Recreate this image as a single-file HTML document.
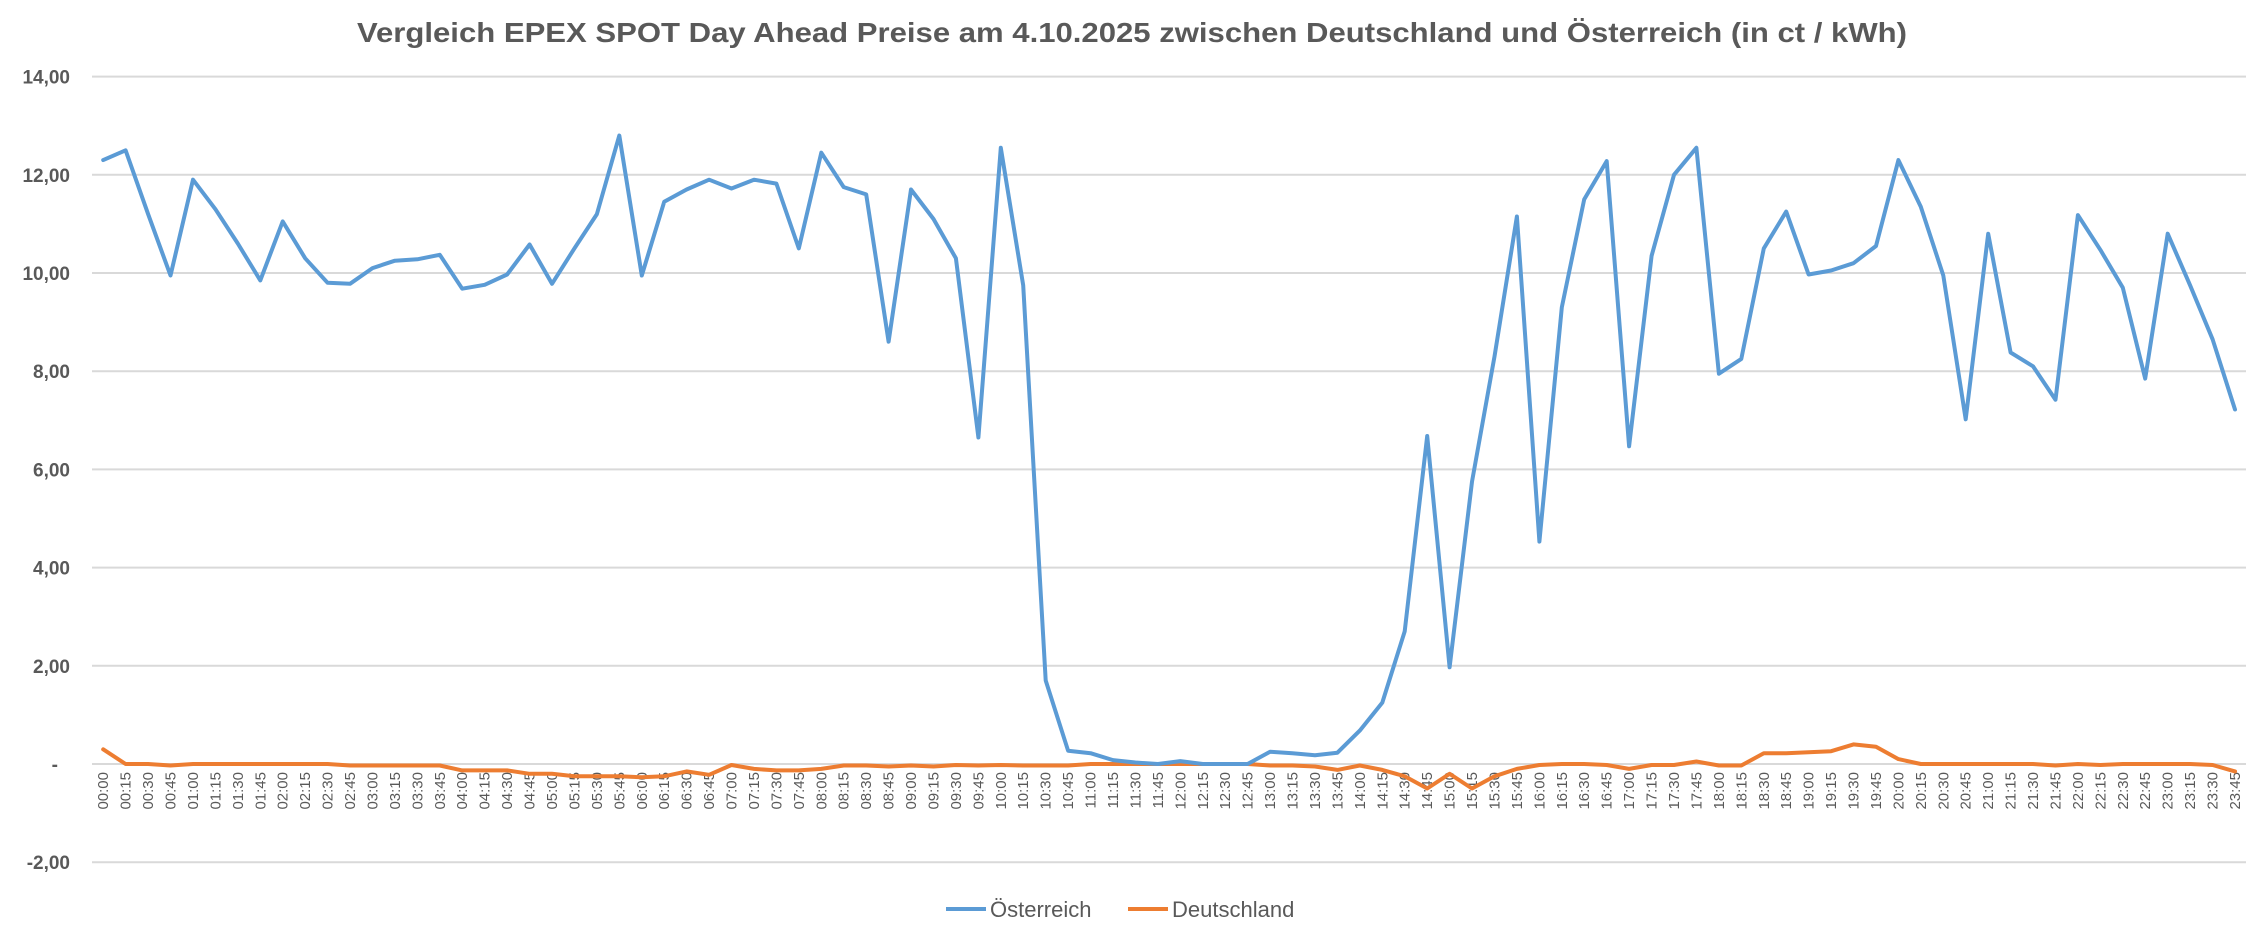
<!DOCTYPE html>
<html><head><meta charset="utf-8"><style>
html,body{margin:0;padding:0;background:#fff;}
svg{display:block;}
text{font-family:"Liberation Sans",sans-serif;}
</style></head><body>
<svg id="c" width="2265" height="937" viewBox="0 0 2265 937" xmlns="http://www.w3.org/2000/svg">
<rect width="2265" height="937" fill="#fff"/>
<text x="1132" y="42" text-anchor="middle" font-size="28" font-weight="bold" fill="#595959" textLength="1550" lengthAdjust="spacingAndGlyphs">Vergleich EPEX SPOT Day Ahead Preise am 4.10.2025 zwischen Deutschland und Österreich (in ct / kWh)</text>
<g id="grid" stroke="#d9d9d9" stroke-width="2"></g>
<g id="ylab" font-size="19" font-weight="bold" fill="#595959" text-anchor="end"></g>
<g id="xlab" font-size="15" fill="#595959"></g>
<polyline id="de" fill="none" stroke="#ed7d31" stroke-width="4" stroke-linejoin="round" stroke-linecap="round"/>
<polyline id="at" fill="none" stroke="#5b9bd5" stroke-width="4" stroke-linejoin="round" stroke-linecap="round"/>
<line x1="946" y1="909" x2="986" y2="909" stroke="#5b9bd5" stroke-width="4"/>
<text x="990" y="917" font-size="22" fill="#595959">Österreich</text>
<line x1="1128" y1="909" x2="1168" y2="909" stroke="#ed7d31" stroke-width="4"/>
<text x="1172" y="917" font-size="22" fill="#595959">Deutschland</text>
</svg>
<script>
var NS="http://www.w3.org/2000/svg";
function y(v){return 764-v*49.1;}
function X(i){return 103.2+i*22.44;}
var at=[12.3,12.5,11.2,9.95,11.9,11.3,10.6,9.85,11.05,10.3,9.8,9.78,10.1,10.25,10.28,10.37,9.68,9.76,9.97,10.58,9.78,10.5,11.2,12.8,9.95,11.45,11.7,11.9,11.72,11.9,11.82,10.5,12.45,11.75,11.6,8.6,11.7,11.1,10.3,6.65,12.55,9.75,1.7,0.27,0.22,0.08,0.03,0.0,0.06,0.0,0.0,0.0,0.25,0.22,0.18,0.23,0.68,1.25,2.7,6.68,1.97,5.75,8.3,11.15,4.53,9.3,11.5,12.28,6.47,10.35,12.0,12.55,7.95,8.25,10.5,11.25,9.97,10.05,10.2,10.55,12.3,11.35,9.95,7.02,10.8,8.38,8.1,7.42,11.18,10.47,9.7,7.85,10.8,9.75,8.65,7.22];
var de=[0.3,0,0,-0.03, 0,0,0,0, 0,0,0,-0.03, -0.03,-0.03,-0.03,-0.03, -0.13,-0.13,-0.13,-0.2, -0.2,-0.25,-0.25,-0.25, -0.27,-0.25,-0.15,-0.22, -0.02,-0.1,-0.13,-0.13, -0.1,-0.03,-0.03,-0.05, -0.03,-0.05,-0.02,-0.03, -0.02,-0.03,-0.03,-0.03, 0,0,0,0, 0,0,0,0, -0.03,-0.03,-0.05,-0.12, -0.03,-0.12,-0.25,-0.5, -0.2,-0.5,-0.25,-0.1, -0.02,0,0,-0.02, -0.1,-0.02,-0.02,0.05, -0.03,-0.03,0.22,0.22, 0.24,0.26,0.4,0.35, 0.1,0,0,0, 0,0,0,-0.03, 0,-0.02,0,0, 0,0,-0.02,-0.15];
function pts(a){return a.map(function(v,i){return X(i).toFixed(1)+","+y(v).toFixed(1);}).join(" ");}
document.getElementById("at").setAttribute("points",pts(at));
document.getElementById("de").setAttribute("points",pts(de));
var g=document.getElementById("grid"),yl=document.getElementById("ylab"),xl=document.getElementById("xlab");
var labs={14:"14,00",12:"12,00",10:"10,00",8:"8,00",6:"6,00",4:"4,00",2:"2,00",0:"-",'-2':"-2,00"};
for(var v=-2;v<=14;v+=2){
 var l=document.createElementNS(NS,"line");l.setAttribute("x1",92);l.setAttribute("x2",2246);l.setAttribute("y1",y(v));l.setAttribute("y2",y(v));g.appendChild(l);
 var t=document.createElementNS(NS,"text");t.setAttribute("x",v==0?58:70);t.setAttribute("y",y(v)+7);t.textContent=labs[v];yl.appendChild(t);
}
for(var i=0;i<96;i++){
 var h=Math.floor(i/4),m=(i%4)*15;
 var s=(h<10?"0":"")+h+":"+(m<10?"0":"")+m;
 var t=document.createElementNS(NS,"text");
 var x=X(i)+5,yy=772;
 t.setAttribute("transform","translate("+x+","+yy+") rotate(-90)");
 t.setAttribute("text-anchor","end");
 t.textContent=s;xl.appendChild(t);
}
</script>
</body></html>
